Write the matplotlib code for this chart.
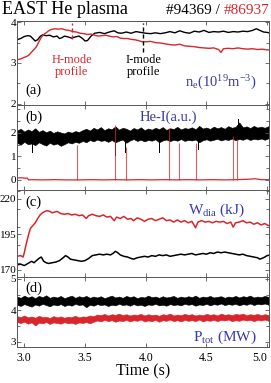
import matplotlib
matplotlib.use('Agg')
import matplotlib.pyplot as plt
from matplotlib.ticker import MultipleLocator

# ========== Font Settings ==========
plt.rcParams['font.family'] = ['Liberation Serif', 'DejaVu Serif']
plt.rcParams['mathtext.fontset'] = 'custom'
plt.rcParams['mathtext.rm'] = 'Liberation Serif'
plt.rcParams['mathtext.it'] = 'Liberation Serif:italic'
plt.rcParams['axes.unicode_minus'] = False

RED = '#d8262c'
BLUE = '#3a3aa6'
FRAME = '#555555'

# ========== Data ==========
# (a) line-averaged density, 10^19 m^-3
t_ne_black = [2.94, 2.97, 3.00, 3.03, 3.05, 3.07, 3.09, 3.11, 3.13, 3.15, 3.18, 3.21,
              3.24, 3.27, 3.29, 3.31, 3.33, 3.36, 3.39, 3.42, 3.45, 3.48, 3.50, 3.52,
              3.55, 3.58, 3.62, 3.66, 3.70, 3.74, 3.77, 3.80, 3.84, 3.88, 3.92, 3.96,
              4.00, 4.04, 4.08, 4.12, 4.16, 4.20, 4.24, 4.28, 4.32, 4.36, 4.40, 4.44,
              4.48, 4.52, 4.56, 4.60, 4.64, 4.68, 4.72, 4.76, 4.80, 4.84, 4.88, 4.91,
              4.94, 4.97, 5.00, 5.03, 5.05]
ne_black = [3.57, 3.60, 3.65, 3.67, 3.66, 3.60, 3.54, 3.57, 3.65, 3.69, 3.67, 3.68,
            3.64, 3.66, 3.60, 3.62, 3.66, 3.64, 3.61, 3.64, 3.66, 3.60, 3.54, 3.55,
            3.66, 3.73, 3.75, 3.72, 3.76, 3.79, 3.74, 3.73, 3.76, 3.73, 3.77, 3.75,
            3.73, 3.72, 3.74, 3.72, 3.74, 3.77, 3.74, 3.79, 3.75, 3.73, 3.78, 3.76,
            3.80, 3.75, 3.77, 3.76, 3.78, 3.75, 3.77, 3.76, 3.78, 3.77, 3.80, 3.84,
            3.80, 3.76, 3.75, 3.73, 3.72]

t_ne_red = [2.94, 2.97, 3.00, 3.02, 3.04, 3.06, 3.08, 3.10, 3.12, 3.14, 3.16, 3.18,
            3.20, 3.22, 3.25, 3.28, 3.31, 3.34, 3.37, 3.40, 3.43, 3.46, 3.49, 3.52,
            3.55, 3.58, 3.61, 3.64, 3.67, 3.70, 3.73, 3.76, 3.79, 3.82, 3.85, 3.88,
            3.91, 3.94, 3.97, 4.00, 4.04, 4.08, 4.12, 4.16, 4.20, 4.24, 4.28, 4.32,
            4.36, 4.40, 4.44, 4.48, 4.52, 4.56, 4.60, 4.62, 4.64, 4.68, 4.72, 4.76,
            4.80, 4.84, 4.88, 4.92, 4.96, 5.00, 5.05]
ne_red = [3.08, 3.10, 3.14, 3.16, 3.20, 3.27, 3.33, 3.40, 3.52, 3.63, 3.70, 3.74,
          3.79, 3.82, 3.84, 3.83, 3.84, 3.81, 3.80, 3.77, 3.76, 3.73, 3.72, 3.70,
          3.71, 3.68, 3.66, 3.67, 3.68, 3.66, 3.64, 3.65, 3.61, 3.60, 3.60, 3.58,
          3.57, 3.55, 3.52, 3.52, 3.53, 3.50, 3.49, 3.47, 3.45, 3.44, 3.46, 3.42,
          3.41, 3.40, 3.38, 3.37, 3.36, 3.37, 3.33, 3.26, 3.35, 3.36, 3.35, 3.37,
          3.35, 3.34, 3.35, 3.33, 3.34, 3.32, 3.33]

# profile times marked in (a)
profile_t = [3.39, 3.98]
profile_top = [3.98, 3.98]
profile_bottom = [3.59, 3.27]

# shared time base for the noisy signals in (b) and (d)
t_fast = [2.94, 2.97, 3.00, 3.03, 3.06, 3.09, 3.12, 3.15, 3.18, 3.21, 3.24, 3.27,
          3.30, 3.33, 3.36, 3.39, 3.42, 3.45, 3.48, 3.51, 3.54, 3.57, 3.60, 3.63,
          3.66, 3.69, 3.72, 3.75, 3.78, 3.81, 3.84, 3.87, 3.90, 3.93, 3.96, 3.99,
          4.02, 4.05, 4.08, 4.11, 4.14, 4.17, 4.20, 4.23, 4.26, 4.29, 4.32, 4.35,
          4.38, 4.41, 4.44, 4.47, 4.50, 4.53, 4.56, 4.59, 4.62, 4.65, 4.68, 4.71,
          4.74, 4.77, 4.80, 4.83, 4.86, 4.89, 4.92, 4.95, 4.98, 5.01, 5.04]

# (b) He-I line emission, black shot: upper / lower edge of the noise band
hei_black_hi = [2.10, 2.18, 2.06, 2.15, 2.08, 2.20, 2.05, 2.12, 2.03, 2.10, 2.00, 2.07,
                2.02, 1.98, 2.06, 2.01, 2.08, 2.04, 2.12, 2.18, 2.10, 2.22, 2.15, 2.25,
                2.12, 2.20, 2.16, 2.28, 2.14, 2.22, 2.18, 2.10, 2.21, 2.15, 2.24, 2.12,
                2.19, 2.14, 2.22, 2.16, 2.25, 2.13, 2.20, 2.17, 2.26, 2.15, 2.21, 2.18,
                2.24, 2.16, 2.30, 2.19, 2.23, 2.17, 2.27, 2.20, 2.25, 2.18, 2.29, 2.22,
                2.26, 2.45, 2.24, 2.28, 2.21, 2.30, 2.23, 2.27, 2.22, 2.29, 2.25]
hei_black_lo = [1.58, 1.50, 1.62, 1.52, 1.55, 1.48, 1.60, 1.52, 1.46, 1.58, 1.50, 1.55,
                1.45, 1.52, 1.60, 1.55, 1.62, 1.58, 1.66, 1.60, 1.70, 1.64, 1.72, 1.66,
                1.69, 1.62, 1.70, 1.60, 1.67, 1.72, 1.58, 1.68, 1.74, 1.66, 1.71, 1.64,
                1.70, 1.67, 1.73, 1.60, 1.68, 1.72, 1.65, 1.71, 1.67, 1.74, 1.66, 1.70,
                1.68, 1.72, 1.60, 1.69, 1.73, 1.67, 1.71, 1.75, 1.68, 1.73, 1.70, 1.76,
                1.69, 1.74, 1.71, 1.77, 1.70, 1.75, 1.72, 1.76, 1.71, 1.77, 1.74]
hei_black_spike_t = [3.06, 3.75, 3.83, 4.11, 4.43, 4.76]
hei_black_spike_from = [1.60, 1.70, 1.70, 1.70, 1.70, 2.20]
hei_black_spike_to = [1.20, 1.05, 1.20, 1.20, 1.30, 2.58]

# (b) red shot: baseline and spikes
t_hei_red = [2.94, 2.98, 3.01, 3.025, 3.035, 3.06, 3.15, 3.25, 3.35, 3.45, 3.55, 3.65,
             3.75, 3.85, 3.95, 4.05, 4.15, 4.25, 4.35, 4.45, 4.55, 4.65, 4.75, 4.85,
             4.90, 4.95, 5.05]
hei_red = [0.08, 0.09, 0.07, 0.08, 0.00, 0.01, 0.00, 0.01, 0.00, 0.00, 0.01, 0.00,
           0.01, 0.00, 0.01, 0.00, 0.01, 0.00, 0.01, 0.00, 0.01, 0.00, 0.01, 0.03,
           0.05, 0.01, 0.01]
hei_red_spike_t = [3.43, 3.75, 3.84, 4.19, 4.27, 4.41, 4.72, 4.75]
hei_red_spike_top = [1.49, 2.34, 1.42, 2.20, 1.57, 1.57, 1.87, 1.74]

# (c) diamagnetic stored energy, kJ
t_w_red = [2.94, 2.97, 2.99, 3.00, 3.01, 3.03, 3.05, 3.07, 3.09, 3.11, 3.13, 3.15,
           3.17, 3.19, 3.21, 3.23, 3.25, 3.27, 3.30, 3.33, 3.36, 3.39, 3.42, 3.45,
           3.48, 3.51, 3.53, 3.56, 3.59, 3.62, 3.65, 3.68, 3.71, 3.74, 3.76, 3.79,
           3.82, 3.85, 3.88, 3.90, 3.93, 3.96, 3.99, 4.02, 4.05, 4.08, 4.11, 4.14,
           4.17, 4.20, 4.23, 4.26, 4.29, 4.32, 4.35, 4.38, 4.41, 4.43, 4.46, 4.49,
           4.52, 4.55, 4.58, 4.61, 4.64, 4.67, 4.70, 4.72, 4.74, 4.77, 4.80, 4.83,
           4.86, 4.89, 4.92, 4.95, 4.98, 5.01, 5.04]
w_red = [179.5, 180.0, 179.0, 182.0, 186.0, 193.0, 199.0, 201.0, 203.0, 206.0, 208.5, 210.0,
         211.0, 211.5, 211.0, 210.0, 210.5, 211.0, 209.5, 209.0, 209.5, 208.5, 209.0, 208.0,
         208.5, 206.0, 208.0, 209.0, 208.0, 207.5, 208.5, 207.0, 207.5, 204.5, 207.0, 206.0,
         207.5, 205.5, 206.0, 204.5, 206.5, 205.5, 204.0, 205.5, 206.0, 204.5, 205.5, 206.5,
         204.5, 205.0, 203.5, 205.0, 203.5, 204.5, 203.0, 204.0, 199.5, 203.5, 204.5, 203.5,
         204.0, 203.0, 204.0, 203.5, 204.0, 202.5, 203.5, 200.0, 203.0, 203.5, 204.5, 203.0,
         203.5, 202.0, 203.0, 201.5, 202.5, 201.0, 202.5]

t_w_black = [2.94, 2.97, 3.00, 3.03, 3.06, 3.08, 3.10, 3.12, 3.14, 3.16, 3.18, 3.20,
             3.23, 3.26, 3.29, 3.32, 3.34, 3.36, 3.38, 3.41, 3.44, 3.47, 3.50, 3.53,
             3.56, 3.59, 3.62, 3.65, 3.68, 3.71, 3.73, 3.75, 3.77, 3.79, 3.82, 3.85,
             3.88, 3.90, 3.93, 3.96, 3.99, 4.02, 4.05, 4.08, 4.11, 4.14, 4.17, 4.20,
             4.23, 4.26, 4.29, 4.32, 4.35, 4.38, 4.41, 4.44, 4.47, 4.50, 4.53, 4.56,
             4.59, 4.62, 4.65, 4.68, 4.71, 4.74, 4.77, 4.80, 4.83, 4.86, 4.89, 4.92,
             4.94, 4.97, 5.00, 5.03, 5.05]
w_black = [173.5, 174.0, 173.0, 174.5, 176.0, 175.0, 176.5, 178.0, 179.0, 176.0, 175.0, 174.5,
           175.0, 175.5, 176.5, 178.5, 180.0, 179.0, 177.5, 177.0, 176.5, 176.0, 176.5, 178.0,
           180.0, 180.5, 181.0, 180.5, 181.0, 180.5, 181.5, 183.0, 182.0, 180.5, 179.5, 179.0,
           178.0, 177.5, 178.5, 179.0, 179.5, 179.0, 180.0, 179.5, 180.5, 180.0, 180.5, 179.5,
           180.0, 180.5, 181.0, 180.5, 181.0, 181.5, 180.5, 181.0, 181.5, 181.0, 182.0, 181.5,
           182.5, 182.0, 182.5, 182.0, 181.5, 181.0, 180.5, 181.0, 180.0, 179.5, 179.0, 178.5,
           177.5, 178.5, 180.0, 180.5, 179.5]

# (d) total heating power, MW: upper / lower edge of the noise band
p_black_hi = [4.44, 4.40, 4.47, 4.41, 4.45, 4.39, 4.46, 4.42, 4.48, 4.40, 4.44, 4.41,
              4.46, 4.39, 4.43, 4.47, 4.40, 4.45, 4.42, 4.46, 4.40, 4.44, 4.41, 4.45,
              4.39, 4.43, 4.47, 4.41, 4.44, 4.40, 4.46, 4.42, 4.45, 4.39, 4.43, 4.41,
              4.47, 4.42, 4.44, 4.40, 4.45, 4.41, 4.43, 4.46, 4.40, 4.44, 4.41, 4.45,
              4.42, 4.47, 4.40, 4.44, 4.42, 4.46, 4.41, 4.43, 4.45, 4.40, 4.44, 4.42,
              4.46, 4.41, 4.45, 4.43, 4.47, 4.41, 4.44, 4.42, 4.46, 4.43, 4.45]
p_black_lo = [4.18, 4.14, 4.20, 4.16, 4.12, 4.19, 4.15, 4.21, 4.17, 4.13, 4.19, 4.16,
              4.20, 4.14, 4.18, 4.15, 4.21, 4.17, 4.19, 4.10, 4.18, 4.15, 4.20, 4.17,
              4.19, 4.14, 4.18, 4.16, 4.21, 4.17, 4.19, 4.15, 4.20, 4.16, 4.18, 4.14,
              4.19, 4.17, 4.21, 4.16, 4.18, 4.15, 4.20, 4.17, 4.19, 4.16, 4.21, 4.18,
              4.20, 4.15, 4.19, 4.17, 4.21, 4.16, 4.20, 4.18, 4.22, 4.17, 4.20, 4.18,
              4.21, 4.16, 4.20, 4.18, 4.22, 4.17, 4.21, 4.19, 4.22, 4.18, 4.20]
p_red_hi = [3.82, 3.79, 3.84, 3.78, 3.81, 3.77, 3.83, 3.79, 3.80, 3.76, 3.82, 3.78,
            3.81, 3.77, 3.80, 3.79, 3.83, 3.78, 3.81, 3.80, 3.84, 3.82, 3.87, 3.85,
            3.89, 3.84, 3.88, 3.86, 3.90, 3.85, 3.88, 3.84, 3.87, 3.86, 3.89, 3.84,
            3.88, 3.85, 3.87, 3.83, 3.88, 3.86, 3.90, 3.84, 3.87, 3.85, 3.89, 3.86,
            3.88, 3.84, 3.87, 3.85, 3.89, 3.86, 3.88, 3.84, 3.90, 3.86, 3.88, 3.85,
            3.89, 3.87, 3.90, 3.85, 3.88, 3.86, 3.89, 3.85, 3.88, 3.86, 3.89]
p_red_lo = [3.63, 3.60, 3.64, 3.58, 3.62, 3.52, 3.61, 3.59, 3.63, 3.57, 3.62, 3.60,
            3.58, 3.63, 3.59, 3.61, 3.57, 3.62, 3.60, 3.63, 3.59, 3.64, 3.68, 3.65,
            3.70, 3.66, 3.69, 3.64, 3.68, 3.66, 3.70, 3.65, 3.69, 3.67, 3.71, 3.65,
            3.68, 3.66, 3.70, 3.64, 3.69, 3.67, 3.71, 3.66, 3.69, 3.65, 3.70, 3.67,
            3.69, 3.66, 3.71, 3.65, 3.69, 3.67, 3.70, 3.66, 3.70, 3.68, 3.71, 3.66,
            3.69, 3.67, 3.71, 3.68, 3.70, 3.66, 3.70, 3.68, 3.71, 3.67, 3.70]

x_ticks = [3.0, 3.5, 4.0, 4.5, 5.0]
x_tick_labels = ['3.0', '3.5', '4.0', '4.5', '5.0']


def style_axis(ax, ylim, yticks, yminor):
    ax.set_xlim(2.94, 5.015)
    ax.set_ylim(*ylim)
    ax.set_xticks(x_ticks)
    ax.set_yticks(yticks)
    ax.yaxis.set_minor_locator(MultipleLocator(yminor))
    ax.tick_params(which='both', direction='in', top=True, right=True,
                   colors=FRAME, labelcolor='black', width=0.6)
    ax.tick_params(axis='x', labelsize=8.5)
    ax.tick_params(axis='y', labelsize=8, pad=0.5)
    ax.tick_params(which='major', length=3)
    ax.tick_params(which='minor', length=2)
    for sp in ax.spines.values():
        sp.set_color(FRAME)
        sp.set_linewidth(0.7)


fig = plt.figure(figsize=(2.71, 3.83), dpi=100)
W, H = 271.0, 383.0
left, right = 17 / W, 269 / W
bounds = [(21, 105), (105, 190), (190, 277), (277, 347)]
axes = []
for top, bot in bounds:
    axes.append(fig.add_axes([left, 1 - bot / H, right - left, (bot - top) / H]))
ax_a, ax_b, ax_c, ax_d = axes

# ---- (a) density ----
ax_a.plot(t_ne_black, ne_black, color='black', lw=1.0)
ax_a.plot(t_ne_red, ne_red, color=RED, lw=1.0)
ax_a.plot([profile_t[0]] * 2, [profile_bottom[0], profile_top[0]], color=RED, lw=1.0, ls=(0, (3, 2)))
ax_a.plot([profile_t[1]] * 2, [profile_bottom[1], profile_top[1]], color='black', lw=1.0, ls=(0, (3, 2)))
style_axis(ax_a, (1.97, 4.03), [2, 3, 4], 0.5)
ax_a.text(profile_t[0], 2.93, 'H-mode\nprofile', color=RED, fontsize=9,
          ha='center', va='center', linespacing=1.05)
ax_a.text(profile_t[1], 2.93, 'I-mode\nprofile', color='black', fontsize=9,
          ha='center', va='center', linespacing=1.05)
ax_a.text(0.81, 0.26, r'n$_\mathrm{e}$(10$^{19}$m$^{-3}$)', color=BLUE, fontsize=10.5,
          ha='center', va='center', transform=ax_a.transAxes)
ax_a.text(0.032, 0.18, '(a)', fontsize=10.5, ha='left', va='center', transform=ax_a.transAxes)

# ---- (b) He-I ----
ax_b.fill_between(t_fast, hei_black_lo, hei_black_hi, color='black', lw=0.4)
for t, y0, y1 in zip(hei_black_spike_t, hei_black_spike_from, hei_black_spike_to):
    ax_b.plot([t, t], [y0, y1], color='black', lw=0.7)
ax_b.plot(t_hei_red, hei_red, color=RED, lw=0.9)
ax_b.vlines(hei_red_spike_t, 0, hei_red_spike_top, color=RED, lw=0.8, alpha=0.75)
style_axis(ax_b, (-0.43, 3.19), [0, 1, 2], 0.5)
ax_b.text(0.6, 0.86, 'He-I(a.u.)', color=BLUE, fontsize=10.5,
          ha='center', va='center', transform=ax_b.transAxes)
ax_b.text(0.032, 0.86, '(b)', fontsize=10.5, ha='left', va='center', transform=ax_b.transAxes)

# ---- (c) W_dia ----
ax_c.plot(t_w_red, w_red, color=RED, lw=1.1)
ax_c.plot(t_w_black, w_black, color='black', lw=1.1)
style_axis(ax_c, (165, 226), [170, 195, 220], 12.5)
ax_c.text(0.79, 0.77, r'W$_\mathrm{dia}$ (kJ)', color=BLUE, fontsize=11,
          ha='center', va='center', transform=ax_c.transAxes)
ax_c.text(0.032, 0.86, '(c)', fontsize=10.5, ha='left', va='center', transform=ax_c.transAxes)

# ---- (d) P_tot ----
ax_d.fill_between(t_fast, p_black_lo, p_black_hi, color='black', lw=0.4)
ax_d.fill_between(t_fast, p_red_lo, p_red_hi, color=RED, lw=0.4)
style_axis(ax_d, (2.84, 5.06), [3, 4, 5], 0.5)
ax_d.text(0.825, 0.14, r'P$_\mathrm{tot}$ (MW)', color=BLUE, fontsize=11,
          ha='center', va='center', transform=ax_d.transAxes)
ax_d.text(0.032, 0.84, '(d)', fontsize=10.5, ha='left', va='center', transform=ax_d.transAxes)

for ax in axes[:-1]:
    ax.tick_params(labelbottom=False)
ax_d.set_xticklabels(x_tick_labels)
ax_d.get_xticklabels()[-1].set_ha('right')
ax_d.set_xlabel('Time (s)', fontsize=11.5, labelpad=0)

# ---- header ----
base_y = 1 - 13.5 / H
fig.text(2 / W, base_y, 'EAST He plasma', fontsize=13, ha='left', va='baseline')
red_shot = fig.text(269 / W, base_y, '#86937', fontsize=11, ha='right', va='baseline', color=RED)
fig.canvas.draw()
red_x0 = red_shot.get_window_extent().x0
fig.text((red_x0 - 3.5) / W, base_y, '#94369 /', fontsize=11, ha='right', va='baseline')

fig.savefig('out.png', dpi=100)
